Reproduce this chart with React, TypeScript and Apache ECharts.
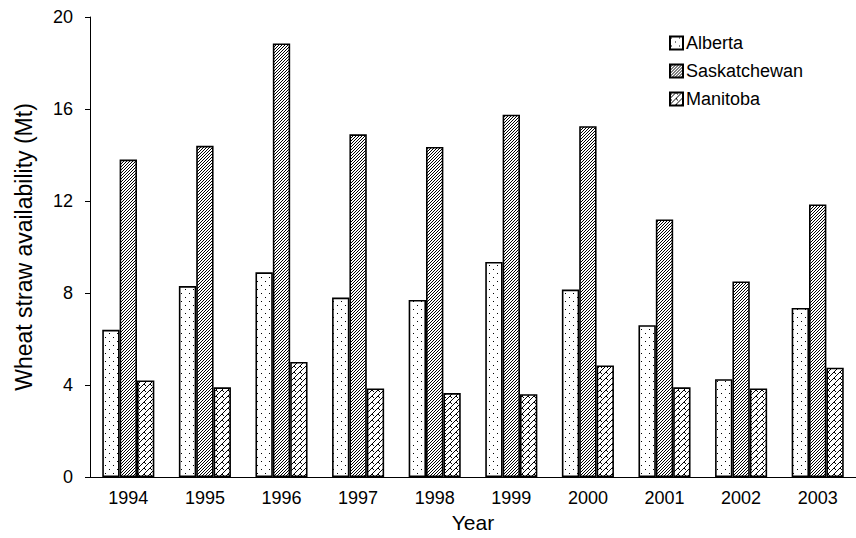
import React, { useEffect, useRef } from "react";
import * as echarts from "echarts";

const years = ["1994", "1995", "1996", "1997", "1998", "1999", "2000", "2001", "2002", "2003"];
const alberta = [6.4, 8.3, 8.9, 7.8, 7.7, 9.35, 8.15, 6.6, 4.25, 7.35];
const saskatchewan = [13.8, 14.4, 18.85, 14.9, 14.35, 15.75, 15.25, 11.2, 8.5, 11.85];
const manitoba = [4.2, 3.9, 5.0, 3.85, 3.65, 3.6, 4.85, 3.9, 3.85, 4.75];
const seriesNames = ["Alberta", "Saskatchewan", "Manitoba"];
const yTicks = { min: 0, max: 20, interval: 4 };

function makePattern(size: number, on: (x: number, y: number) => boolean) {
  const c = document.createElement("canvas");
  c.width = size;
  c.height = size;
  const ctx = c.getContext("2d")!;
  const img = ctx.createImageData(size, size);
  for (let y = 0; y < size; y++) {
    for (let x = 0; x < size; x++) {
      const i = (y * size + x) * 4;
      const v = on(x, y) ? 0 : 255;
      img.data[i] = v;
      img.data[i + 1] = v;
      img.data[i + 2] = v;
      img.data[i + 3] = 255;
    }
  }
  ctx.putImageData(img, 0, 0);
  return { image: c.toDataURL(), repeat: "repeat", imageWidth: size, imageHeight: size };
}

export default function App() {
  const ref = useRef<HTMLDivElement>(null);
  useEffect(() => {
    if (!ref.current) return;
    const chart = echarts.init(ref.current, null, { renderer: "svg" });
    const dots = makePattern(8, (x, y) => (x === 1 && y === 1) || (x === 5 && y === 5));
    const dense = makePattern(3, (x, y) => (x + y) % 3 === 2);
    const zig = makePattern(6, (x, y) => (x + y) % 6 === 5 || (x === y && x < 2));
    const patterns = [dots, dense, zig];
    const data = [alberta, saskatchewan, manitoba];
    const font = "Liberation Sans, Arial, Helvetica, sans-serif";
    chart.setOption({
      animation: false,
      textStyle: { fontFamily: font, color: "#000" },
      grid: { left: 90, top: 17, bottom: 61, right: -7 },
      legend: {
        orient: "vertical",
        left: 664,
        top: 29,
        itemWidth: 13,
        itemHeight: 13,
        itemGap: 10,
        icon: "rect",
        textStyle: { fontSize: 18, color: "#000", fontFamily: font, padding: [0, 0, 0, -2] },
        data: seriesNames,
      },
      xAxis: {
        type: "category",
        data: years,
        name: "Year",
        nameLocation: "middle",
        nameGap: 34,
        nameTextStyle: { fontSize: 21, color: "#000", fontFamily: font },
        axisLine: { lineStyle: { color: "#000", width: 1 } },
        axisTick: { length: 6, lineStyle: { color: "#000" } },
        axisLabel: { fontSize: 18, color: "#000", margin: 12, fontFamily: font },
      },
      yAxis: {
        type: "value",
        min: yTicks.min,
        max: yTicks.max,
        interval: yTicks.interval,
        name: "Wheat straw availability (Mt)",
        nameLocation: "middle",
        nameGap: 55,
        nameTextStyle: { fontSize: 23, color: "#000", fontFamily: font },
        axisLine: { show: true, lineStyle: { color: "#000", width: 1 } },
        axisTick: { show: true, length: 5, lineStyle: { color: "#000" } },
        axisLabel: { fontSize: 18, color: "#000", margin: 17, fontFamily: font },
        splitLine: { show: false },
      },
      series: seriesNames.map((n, i) => ({
        name: n,
        type: "bar",
        data: data[i],
        barGap: "0%",
        barCategoryGap: "32%",
        itemStyle: { color: patterns[i], borderColor: "#000", borderWidth: 1.6 },
      })),
    });
    return () => chart.dispose();
  }, []);
  return (
    <div
      ref={ref}
      style={{ position: "absolute", left: 0, top: 0, width: 856, height: 538, background: "#fff" }}
    />
  );
}
